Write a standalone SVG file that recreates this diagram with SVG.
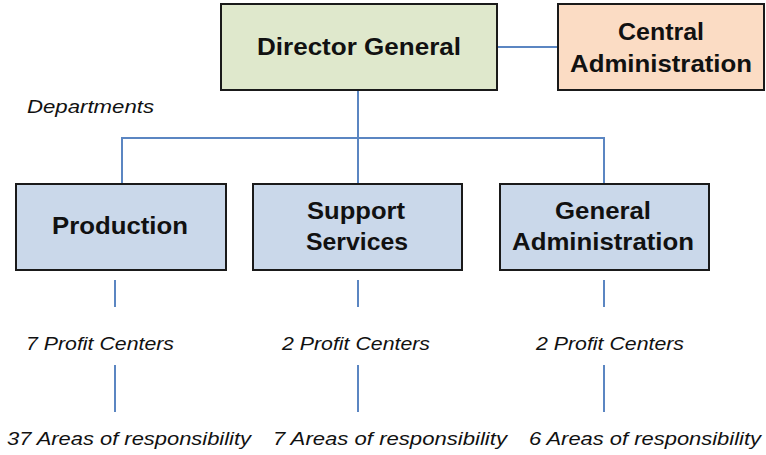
<svg xmlns="http://www.w3.org/2000/svg" width="766" height="455" viewBox="0 0 766 455">
  <style>
    .box { stroke: #1a1a1a; stroke-width: 2; }
    .top { fill: #dfe8cc; }
    .central { fill: #fbdcc4; }
    .dept { fill: #cad8ea; }
    .title { font-family: "Liberation Sans", Arial, sans-serif; font-weight: bold; font-size: 23px; fill: #111; text-anchor: middle; }
    .note { font-family: "Liberation Sans", Arial, sans-serif; font-style: italic; font-size: 18px; fill: #111; text-anchor: middle; }
    .link { stroke: #5b86c2; stroke-width: 2; fill: none; }
  </style>
  <rect width="766" height="455" fill="#ffffff"/>

  <g id="connectors">
    <line class="link" x1="497" y1="47" x2="558" y2="47"/>
    <polyline class="link" points="358,90 358,138"/>
    <polyline class="link" points="122,184 122,138 604,138 604,184"/>
    <line class="link" x1="358" y1="138" x2="358" y2="184"/>
    <line class="link" x1="115" y1="280" x2="115" y2="307"/>
    <line class="link" x1="358" y1="280" x2="358" y2="307"/>
    <line class="link" x1="604" y1="280" x2="604" y2="307"/>
    <line class="link" x1="115" y1="365" x2="115" y2="412"/>
    <line class="link" x1="358" y1="365" x2="358" y2="412"/>
    <line class="link" x1="604" y1="365" x2="604" y2="412"/>
  </g>

  <g id="director-general">
    <rect class="box top" x="221" y="4" width="276" height="86"/>
    <text class="title" x="359" y="55" textLength="204" lengthAdjust="spacingAndGlyphs">Director General</text>
  </g>

  <g id="central-administration">
    <rect class="box central" x="558" y="4" width="206" height="86"/>
    <text class="title" x="661" y="40" textLength="86" lengthAdjust="spacingAndGlyphs">Central</text>
    <text class="title" x="661" y="72" textLength="182" lengthAdjust="spacingAndGlyphs">Administration</text>
  </g>

  <text class="note" x="27" y="113" style="text-anchor:start" textLength="127" lengthAdjust="spacingAndGlyphs">Departments</text>

  <g id="production">
    <rect class="box dept" x="16" y="184" width="210" height="86"/>
    <text class="title" x="120" y="234" textLength="136" lengthAdjust="spacingAndGlyphs">Production</text>
  </g>

  <g id="support-services">
    <rect class="box dept" x="253" y="184" width="209" height="86"/>
    <text class="title" x="356" y="219" textLength="98" lengthAdjust="spacingAndGlyphs">Support</text>
    <text class="title" x="357" y="250" textLength="102" lengthAdjust="spacingAndGlyphs">Services</text>
  </g>

  <g id="general-administration">
    <rect class="box dept" x="500" y="184" width="209" height="86"/>
    <text class="title" x="603" y="219" textLength="96" lengthAdjust="spacingAndGlyphs">General</text>
    <text class="title" x="603" y="250" textLength="182" lengthAdjust="spacingAndGlyphs">Administration</text>
  </g>

  <g id="production-details">
    <text class="note" x="100" y="350" textLength="148" lengthAdjust="spacingAndGlyphs">7 Profit Centers</text>
    <text class="note" x="129" y="445" textLength="244" lengthAdjust="spacingAndGlyphs">37 Areas of responsibility</text>
  </g>

  <g id="support-details">
    <text class="note" x="356" y="350" textLength="148" lengthAdjust="spacingAndGlyphs">2 Profit Centers</text>
    <text class="note" x="390" y="445" textLength="234" lengthAdjust="spacingAndGlyphs">7 Areas of responsibility</text>
  </g>

  <g id="general-details">
    <text class="note" x="610" y="350" textLength="148" lengthAdjust="spacingAndGlyphs">2 Profit Centers</text>
    <text class="note" x="645" y="445" textLength="232" lengthAdjust="spacingAndGlyphs">6 Areas of responsibility</text>
  </g>
</svg>
